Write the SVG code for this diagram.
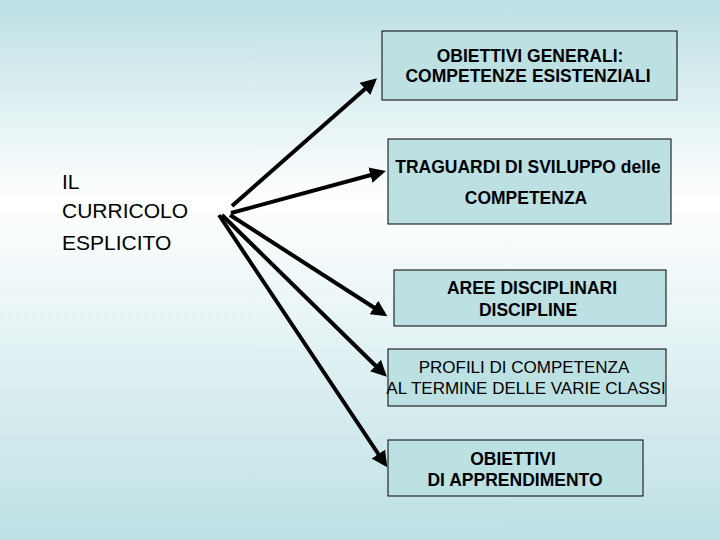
<svg xmlns="http://www.w3.org/2000/svg" width="720" height="540" viewBox="0 0 720 540">
<defs>
<linearGradient id="bg" x1="0" y1="0" x2="0" y2="1">
<stop offset="0" stop-color="#bde0e4"/>
<stop offset="0.37" stop-color="#ffffff"/>
<stop offset="1" stop-color="#bde0e4"/>
</linearGradient>
<marker id="ah" markerWidth="4" markerHeight="4" refX="3" refY="2" orient="auto" markerUnits="strokeWidth">
<path d="M0,0 L4,2 L0,4 Z" fill="#000"/>
</marker>
<style>
.box{fill:#bde0e3;stroke:#000;stroke-width:1}
.b{font-family:"Liberation Sans",Arial,sans-serif;font-size:17.5px;font-weight:bold;text-anchor:middle;fill:#000}
.n{font-family:"Liberation Sans",Arial,sans-serif;font-size:17px;text-anchor:middle;fill:#000}
.t{font-family:"Liberation Sans",Arial,sans-serif;font-size:21px;fill:#000}
.c{stroke:#000;stroke-width:4;fill:none;marker-end:url(#ah)}
</style>
</defs>
<rect width="720" height="540" fill="url(#bg)"/>
<g id="title"><text class="t"><tspan x="62" y="189">IL</tspan><tspan x="62" y="218">CURRICOLO</tspan><tspan x="62" y="250">ESPLICITO</tspan></text></g>
<g id="connectors">
<line class="c" x1="232" y1="206" x2="374" y2="81"/>
<line class="c" x1="231" y1="213" x2="382" y2="172"/>
<line class="c" x1="230" y1="215" x2="384" y2="314"/>
<line class="c" x1="222" y1="215" x2="384" y2="374"/>
<line class="c" x1="219" y1="215" x2="385" y2="464"/>
</g>
<g id="n1"><rect class="box" x="382" y="31" width="295" height="69"/><text class="b" x="530" y="62">OBIETTIVI GENERALI:</text><text class="b" x="528" y="82">COMPETENZE ESISTENZIALI</text></g>
<g id="n2"><rect class="box" x="388" y="139" width="283" height="85"/><text class="b" x="528" y="173">TRAGUARDI DI SVILUPPO delle</text><text class="b" x="526" y="204">COMPETENZA</text></g>
<g id="n3"><rect class="box" x="394" y="270" width="272" height="56"/><text class="b" x="532" y="294">AREE DISCIPLINARI</text><text class="b" x="528" y="316">DISCIPLINE</text></g>
<g id="n4"><rect class="box" x="388" y="349" width="278" height="57"/><text class="n" x="524" y="373">PROFILI DI COMPETENZA</text><text class="n" x="526" y="394">AL TERMINE DELLE VARIE CLASSI</text></g>
<g id="n5"><rect class="box" x="388" y="440" width="255" height="56"/><text class="b" x="513" y="465">OBIETTIVI</text><text class="b" x="515" y="486">DI APPRENDIMENTO</text></g>
</svg>
